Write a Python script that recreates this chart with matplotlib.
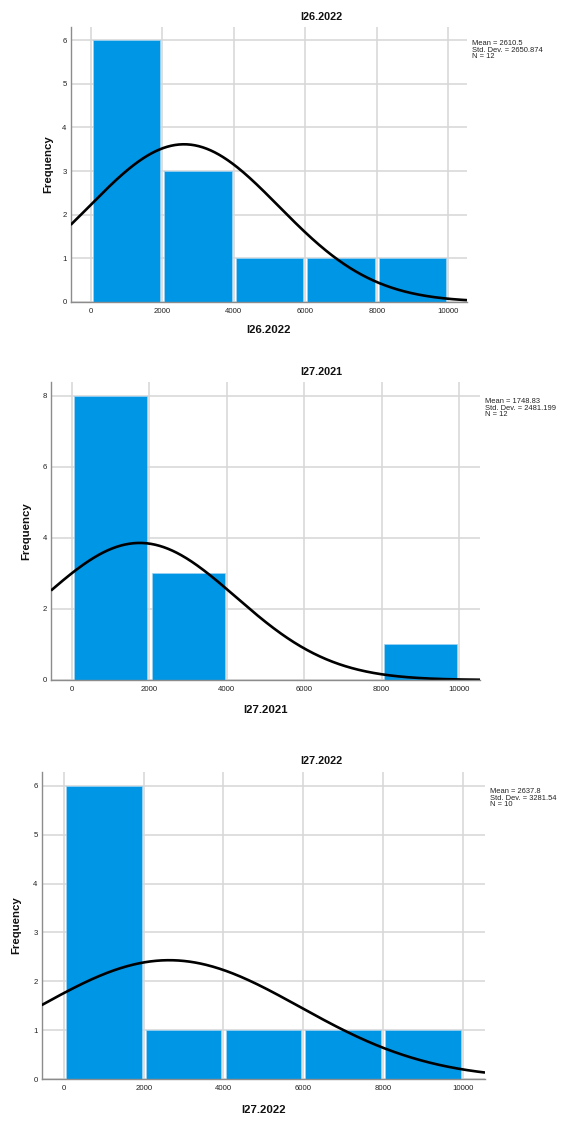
import numpy as np
import matplotlib
matplotlib.use("Agg")
import matplotlib.pyplot as plt

plt.rcParams['font.family'] = ['Liberation Sans', 'DejaVu Sans']

bin_edges = [0, 2000, 4000, 6000, 8000, 10000]
titles = ["I26.2022", "I27.2021", "I27.2022"]
counts = [[6, 3, 1, 1, 1],
          [8, 3, 0, 0, 1],
          [6, 1, 1, 1, 1]]
means = [2610.5, 1748.83, 2637.8]
sds = [2650.874, 2481.199, 3281.54]
ns = [12, 12, 10]
mean_txt = ["2610.5", "1748.83", "2637.8"]
sd_txt = ["2650.874", "2481.199", "3281.54"]
yticks_list = [[0, 1, 2, 3, 4, 5, 6], [0, 2, 4, 6, 8], [0, 1, 2, 3, 4, 5, 6]]
xticks = [0, 2000, 4000, 6000, 8000, 10000]

W, H = 569, 1124
# axes boxes in pixels: left, right, top, bottom
boxes = [(70.7, 467, 26.7, 302), (51, 480, 382, 680), (41.7, 485, 771.7, 1079)]
ylims = [6.305, 8.39, 6.29]
xlims = [(-559, 10523), (-543, 10543), (-559, 10559)]
title_y = [17, 372, 761]
xlabel_y = [330, 710, 1110]
ylabel_x = [48, 26.5, 16.3]
stats_pos = [(472, 40), (485, 398), (490, 788)]

bar_color = '#0096E6'
grid_color = '#d6d6d6'
spine_color = '#8c8c8c'

fig = plt.figure(figsize=(W / 100, H / 100), dpi=100)

for i in range(3):
    l, r, t, b = boxes[i]
    ax = fig.add_axes([l / W, 1 - b / H, (r - l) / W, (b - t) / H])
    ax.set_xlim(*xlims[i])
    ax.set_ylim(0, ylims[i])
    ax.set_axisbelow(True)
    ax.grid(True, color=grid_color, linewidth=1.1)
    inset = 55
    lefts = np.array(bin_edges[:-1]) + inset
    widths = np.diff(bin_edges) - 2 * inset
    cnt = np.array(counts[i])
    mask = cnt > 0
    ax.bar(lefts[mask], cnt[mask], width=widths[mask], align='edge',
           color=bar_color, edgecolor='#9fd3f2', linewidth=0.5, zorder=2)
    xs = np.linspace(xlims[i][0], xlims[i][1], 400)
    bw = bin_edges[1] - bin_edges[0]
    ys = ns[i] * bw * np.exp(-0.5 * ((xs - means[i]) / sds[i]) ** 2) / (sds[i] * np.sqrt(2 * np.pi))
    ax.plot(xs, ys, color='black', linewidth=1.9, zorder=3, solid_capstyle='butt')
    ax.set_xticks(xticks)
    ax.set_yticks(yticks_list[i])
    ax.tick_params(length=0, labelsize=5.6, colors='#222222', pad=4)
    ax.tick_params(axis='y', pad=3)
    for s in ['top', 'right']:
        ax.spines[s].set_visible(False)
    for s in ['left', 'bottom']:
        ax.spines[s].set_color(spine_color)
        ax.spines[s].set_linewidth(1.0)
    ax.spines['bottom'].set_zorder(4)

    fig.text(321 / W, 1 - title_y[i] / H, titles[i], ha='center', va='center',
             fontsize=7.8, fontweight='bold', color='#111111')
    fig.text((l + r) / 2 / W, 1 - xlabel_y[i] / H, titles[i], ha='center', va='center',
             fontsize=8.2, fontweight='bold', color='#111111')
    fig.text(ylabel_x[i] / W, 1 - (t + b) / 2 / H, "Frequency", ha='center', va='center',
             rotation=90, fontsize=8.2, fontweight='bold', color='#111111')
    sx, sy = stats_pos[i]
    fig.text(sx / W, 1 - sy / H,
             f"Mean = {mean_txt[i]}\nStd. Dev. = {sd_txt[i]}\nN = {ns[i]}",
             ha='left', va='top', fontsize=5.4, linespacing=0.9, color='#222222')

fig.savefig("out.png", dpi=100)
